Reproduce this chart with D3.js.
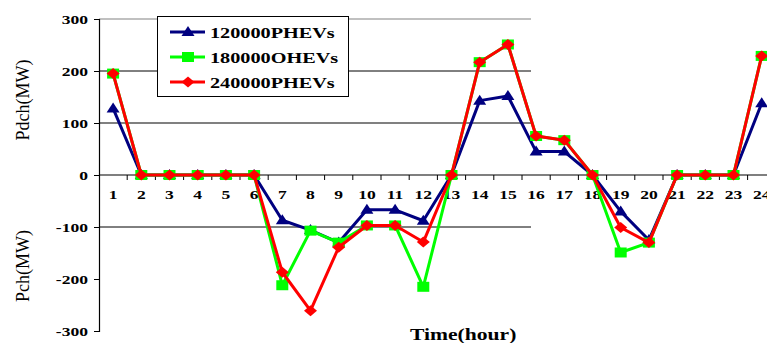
<!DOCTYPE html>
<html>
<head>
<meta charset="utf-8">
<script src="https://cdn.jsdelivr.net/npm/d3@7"></script>
<style>
  body { margin: 0; background: #fff; }
</style>
</head>
<body>
<script>
var width = 767,
    height = 343;

// data
var hours = d3.range(1, 25);
var yTicks = [-300, -200, -100, 0, 100, 200, 300];
var seriesNames = ["120000PHEVs", "180000OHEVs", "240000PHEVs"];
var pev120 = [128, 0, 0, 0, 0, 0, -87, -106, -130, -67, -67, -88, 0, 143, 152, 45, 45, 0, -70, -125, 0, 0, 0, 138];
var pev180 = [195, 0, 0, 0, 0, 0, -212, -107, -130, -97, -97, -215, 0, 217, 251, 75, 67, 0, -149, -130, 0, 0, 0, 229];
var pev240 = [195, 0, 0, 0, 0, 0, -187, -261, -139, -97, -97, -129, 0, 217, 251, 75, 67, 0, -101, -130, 0, 0, 0, 229];

var colors = ["#000080", "#00ff00", "#ff0000"];
var shapes = ["triangle", "square", "diamond"];
var stretch = 1.35;   // the source picture is widened, text too
var serif = "'Liberation Serif', 'Times New Roman', Times, 'DejaVu Serif', serif";

var svg = d3.select("body").append("svg")
    .attr("width", width)
    .attr("height", height)
    .attr("font-family", serif);

var x = d3.scaleBand()
    .domain(hours)
    .range([99, 99 + 24 * 28.2]);
var y = d3.scaleLinear()
    .domain([-300, 300])
    .range([331, 19]);
var gridEnd = 531;

function cx(h) { return x(h) + x.bandwidth() / 2; }

function label(g, tx, ty, str, size, weight, anchor) {
    return g.append("text")
        .attr("transform", "translate(" + tx + "," + ty + ") scale(" + stretch + ",1)")
        .attr("text-anchor", anchor || "start")
        .attr("font-family", serif)
        .attr("font-size", size)
        .attr("font-weight", weight)
        .text(str);
}

function markerPath(shape) {
    if (shape === "triangle") return "M0,-6L6.5,4L-6.5,4Z";
    if (shape === "square") return "M-6,-5L6,-5L6,5L-6,5Z";
    return "M0,-5.5L6.5,0L0,5.5L-6.5,0Z";
}

// gridlines
var grid = [
    {v: 300, c: "#c0c0c0", w: 2},
    {v: 200, c: "#000", w: 1},
    {v: 100, c: "#808080", w: 2},
    {v: -100, c: "#000", w: 1}
];
svg.append("g").selectAll("line")
    .data(grid)
    .join("line")
    .attr("x1", 99).attr("x2", gridEnd)
    .attr("y1", function (d) { return y(d.v); })
    .attr("y2", function (d) { return y(d.v); })
    .attr("stroke", function (d) { return d.c; })
    .attr("stroke-width", function (d) { return d.w; });

// y axis
var yAxis = svg.append("g")
    .attr("transform", "translate(99,0)")
    .call(d3.axisLeft(y).tickValues(yTicks).tickSize(5).tickFormat(""));
yAxis.select(".domain").attr("stroke", "#000").attr("stroke-width", 1.2);
var yl = svg.append("g");
yTicks.forEach(function (t) {
    label(yl, 88, y(t) + 4.5, t, 13, "bold", "end");
});

// zero axis with ticks between hours
svg.append("line")
    .attr("x1", 99).attr("x2", width)
    .attr("y1", y(0)).attr("y2", y(0))
    .attr("stroke", "#000").attr("stroke-width", 1.2);
svg.append("g").selectAll("line")
    .data(hours)
    .join("line")
    .attr("x1", function (d) { return x(d) + x.bandwidth(); })
    .attr("x2", function (d) { return x(d) + x.bandwidth(); })
    .attr("y1", y(0)).attr("y2", y(0) + 5)
    .attr("stroke", "#000");
var xl = svg.append("g");
hours.forEach(function (h) {
    label(xl, cx(h), 199, h, 13, "bold", "middle");
});

// axis titles
svg.append("text")
    .attr("transform", "translate(29," + 100 + ") rotate(-90)")
    .attr("text-anchor", "middle")
    .attr("font-size", 18)
    .text("Pdch(MW)");
svg.append("text")
    .attr("transform", "translate(29," + 266 + ") rotate(-90)")
    .attr("text-anchor", "middle")
    .attr("font-size", 18)
    .text("Pch(MW)");
label(svg, 410, 340, "Time(hour)", 16, "bold", "start");

// series
var line = d3.line()
    .x(function (d, i) { return cx(hours[i]); })
    .y(function (d) { return y(d); });

[pev120, pev180, pev240].forEach(function (vals, k) {
    var g = svg.append("g");
    g.append("path")
        .datum(vals)
        .attr("fill", "none")
        .attr("stroke", colors[k])
        .attr("stroke-width", 3)
        .attr("stroke-linejoin", "round")
        .attr("d", line);
    g.selectAll("path.mk")
        .data(vals)
        .join("path")
        .attr("class", "mk")
        .attr("transform", function (d, i) { return "translate(" + cx(hours[i]) + "," + y(d) + ")"; })
        .attr("d", markerPath(shapes[k]))
        .attr("fill", colors[k]);
});

// legend
var legend = svg.append("g");
legend.append("rect")
    .attr("x", 157.5).attr("y", 16.5)
    .attr("width", 191).attr("height", 80)
    .attr("fill", "#fff")
    .attr("stroke", "#000");
seriesNames.forEach(function (n, k) {
    var ly = 32 + k * 25;
    legend.append("line")
        .attr("x1", 170).attr("x2", 205)
        .attr("y1", ly).attr("y2", ly)
        .attr("stroke", colors[k]).attr("stroke-width", 3);
    legend.append("path")
        .attr("transform", "translate(188," + ly + ")")
        .attr("d", markerPath(shapes[k]))
        .attr("fill", colors[k]);
    label(legend, 210, ly + 5.5, n, 15, "bold", "start");
});
</script>
</body>
</html>
